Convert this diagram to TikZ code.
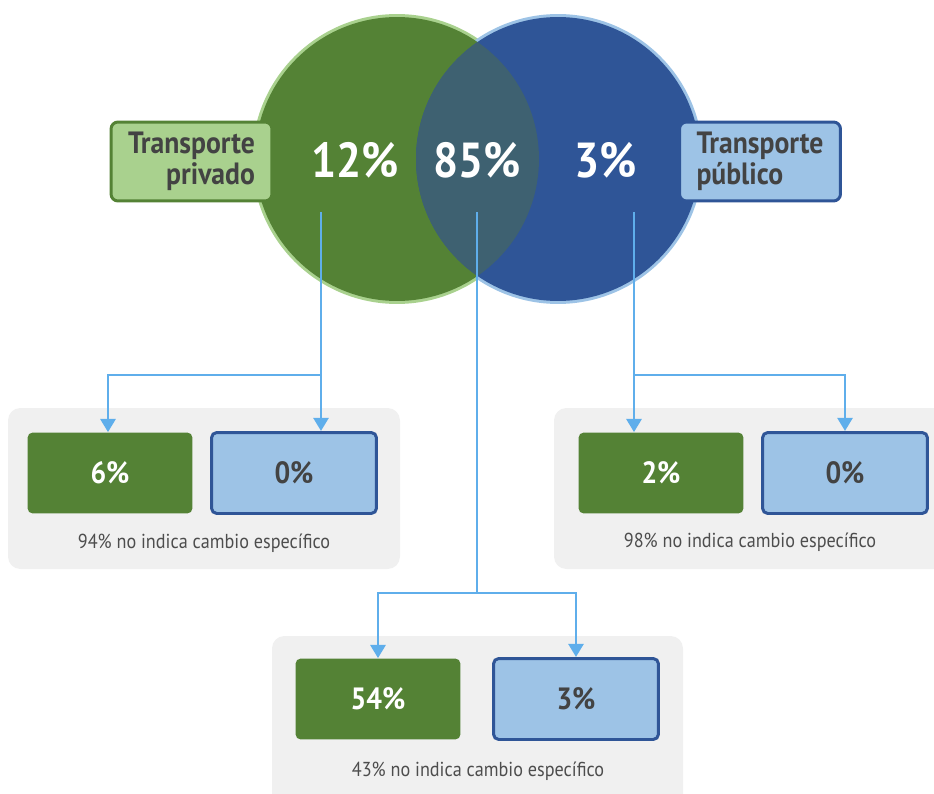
\documentclass[tikz,border=0pt]{standalone}
\usepackage{fontspec}
\setmainfont{PT Sans}[FakeStretch=0.9]
\usetikzlibrary{positioning,arrows.meta}

\definecolor{privgreen}{HTML}{548235}
\definecolor{privlight}{HTML}{A9D18E}
\definecolor{pubnavy}{HTML}{2F5597}
\definecolor{publight}{HTML}{9DC3E6}
\definecolor{lensteal}{HTML}{3E6171}
\definecolor{linkblue}{HTML}{5FAEEB}
\definecolor{panelgray}{HTML}{F0F0F0}
\definecolor{txtgray}{HTML}{434343}
\definecolor{capgray}{HTML}{4D4D4D}

\begin{document}
\begin{tikzpicture}[x=0.02cm,y=-0.02cm,
  pctbox/.style={rounded corners=3pt,minimum width=3.3cm,minimum height=1.62cm,
    font=\bfseries\fontsize{17.5}{20}\selectfont},
  greenbox/.style={pctbox,fill=privgreen,text=white},
  bluebox/.style={pctbox,fill=publight,draw=pubnavy,line width=1.7pt,text=txtgray},
  tagbox/.style={rounded corners=4pt,line width=1.7pt,minimum width=3.22cm,
    minimum height=1.58cm,text=txtgray,inner xsep=7pt,
    font=\bfseries\fontsize{17.5}{18}\selectfont},
  bigpct/.style={text=white,font=\bfseries\fontsize{28}{30}\selectfont},
  caption/.style={text=capgray,font=\fontsize{11.5}{13}\selectfont},
  panel/.style={fill=panelgray,rounded corners=7pt},
  link/.style={draw=linkblue,line width=1.7pt},
  arr/.style={link,-{Triangle[width=8.5pt,length=7.5pt]}}]
\useasboundingbox (0,0) rectangle (934,794);

% venn circles
\fill[privlight] (397,159) circle (2.9cm);
\fill[publight] (558,159) circle (2.9cm);
\fill[privgreen] (397,159) circle (2.84cm);
\fill[pubnavy] (558,159) circle (2.84cm);
\begin{scope}
\clip (397,159) circle (2.84cm);
\fill[lensteal] (558,159) circle (2.84cm);
\end{scope}

\node[bigpct] (p12) at (355,160) {12\%};
\node[bigpct] (p85) at (477,160) {85\%};
\node[bigpct] (p3) at (606,160) {3\%};

% labels
\node[tagbox,fill=privlight,draw=privgreen,align=right] (priv) at (191.5,161.5)
  {Transporte\\privado};
\node[tagbox,fill=publight,draw=pubnavy,align=left] (pub) at (760,161.5)
  {Transporte\\público};

% panels
\fill[panel] (8,408) rectangle (400,569);
\fill[panel] (554,408) rectangle (950,569);
\fill[panel] (272,636) rectangle (683,810);

\node[greenbox] (g6) at (110,473) {6\%};
\node[bluebox] (b0l) at (294,473) {0\%};
\node[caption] (c94) at (204,543) {94\% no indica cambio específico};

\node[greenbox] (g2) at (661,473) {2\%};
\node[bluebox] (b0r) at (845,473) {0\%};
\node[caption] (c98) at (750,542) {98\% no indica cambio específico};

\node[greenbox] (g54) at (378,699) {54\%};
\node[bluebox] (b3) at (576,699) {3\%};
\node[caption] (c43) at (478,771) {43\% no indica cambio específico};

% connectors
\coordinate (s1) at (321,212);
\coordinate (j1) at (321,375);
\coordinate (s2) at (477,212);
\coordinate (j2) at (477,593);
\coordinate (s3) at (634,212);
\coordinate (j3) at (634,375);

\draw[arr] (s1) -- (j1) -| ([xshift=-0.04cm]g6.north);
\draw[arr] (j1) -- (j1 |- b0l.north);
\draw[link] (s2) -- (j2);
\draw[arr] (j2) -| (g54.north);
\draw[arr] (j2) -| (b3.north);
\draw[arr] (s3) -- (j3) -- (j3 |- g2.north);
\draw[arr] (j3) -| (b0r.north);
\end{tikzpicture}
\end{document}
